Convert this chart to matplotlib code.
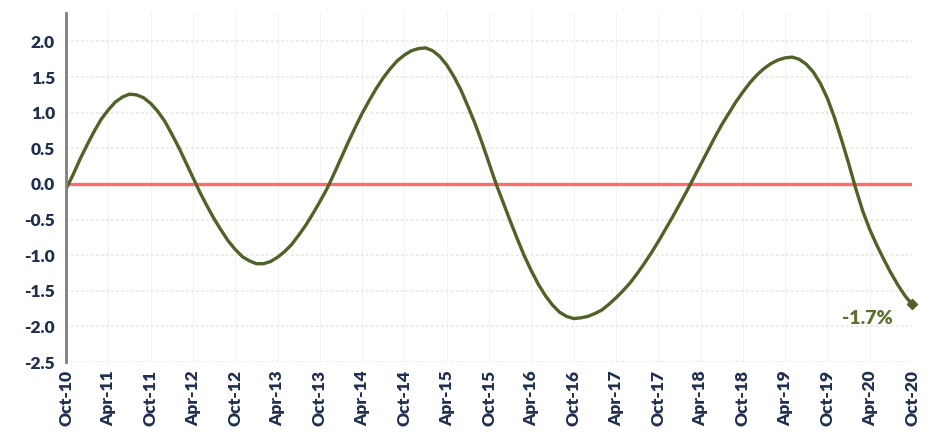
import numpy as np
import matplotlib.pyplot as plt

# monthly values, Oct-10 .. Oct-20
values = [
    -0.07, 0.13, 0.35, 0.55, 0.74, 0.91, 1.04, 1.15, 1.22, 1.26,
    1.25, 1.21, 1.13, 1.02, 0.88, 0.70, 0.51, 0.30, 0.09, -0.12,
    -0.31, -0.49, -0.65, -0.80, -0.92, -1.02, -1.08, -1.12, -1.12, -1.09,
    -1.03, -0.95, -0.85, -0.72, -0.58, -0.42, -0.25, -0.07, 0.14, 0.36,
    0.58, 0.79, 0.99, 1.17, 1.34, 1.49, 1.62, 1.73, 1.81, 1.87,
    1.90, 1.91, 1.87, 1.79, 1.67, 1.51, 1.32, 1.09, 0.85, 0.58,
    0.29, 0.00, -0.26, -0.52, -0.77, -1.01, -1.22, -1.41, -1.57, -1.70,
    -1.80, -1.86, -1.89, -1.88, -1.86, -1.82, -1.77, -1.69, -1.60, -1.50,
    -1.39, -1.26, -1.12, -0.97, -0.81, -0.64, -0.47, -0.29, -0.11, 0.08,
    0.27, 0.46, 0.65, 0.83, 0.99, 1.15, 1.29, 1.42, 1.53, 1.62,
    1.69, 1.74, 1.77, 1.78, 1.75, 1.68, 1.57, 1.41, 1.20, 0.93,
    0.62, 0.29, -0.06, -0.38, -0.64, -0.86, -1.06, -1.25, -1.42, -1.57,
    -1.69,
]
tick_labels = ["Oct-10", "Apr-11", "Oct-11", "Apr-12", "Oct-12", "Apr-13", "Oct-13",
               "Apr-14", "Oct-14", "Apr-15", "Oct-15", "Apr-16", "Oct-16", "Apr-17",
               "Oct-17", "Apr-18", "Oct-18", "Apr-19", "Oct-19", "Apr-20", "Oct-20"]
last_label = "-1.7%"

plt.rcParams['font.family'] = ['Lato', 'DejaVu Sans']

x = np.arange(len(values))
fig = plt.figure(figsize=(9.25, 4.32), dpi=100)
ax = fig.add_axes([0.0714, 0.162, 0.9146, 0.808])

ticks = np.arange(0, len(values), 6)
for t in ticks:
    ax.axvline(t, color='#f3f3f3', lw=0.8, zorder=0)
for yv in np.arange(-2.5, 2.01, 0.5):
    ax.axhline(yv, color='#e6e9d8', lw=1.2, ls=(0, (1.5, 1.5)), zorder=0)

ax.axhline(0, color='#ff6b6b', lw=2.4, zorder=1)
ax.plot(x, values, color='#4f6228', lw=2.4, zorder=2, solid_capstyle='round',
        solid_joinstyle='round')
ax.plot(x[-1], values[-1], marker='D', ms=5, color='#4f6228', zorder=3, clip_on=False)
ax.annotate(last_label, (x[-1], values[-1]), xytext=(-14, -10), textcoords='offset points',
            ha='right', va='center', fontsize=14, fontweight='heavy', color='#5d7130')

ax.set_xlim(0, len(values) - 1)
ax.set_ylim(-2.5, 2.4)
ax.set_yticks(np.arange(-2.5, 2.01, 0.5))
ax.set_yticklabels([f"{v:.1f}" for v in np.arange(-2.5, 2.01, 0.5)])
ax.set_xticks(ticks)
ax.set_xticklabels(tick_labels, rotation=90)

for s in ['top', 'right', 'bottom']:
    ax.spines[s].set_visible(False)
ax.spines['left'].set_color('#7f7f7f')
ax.spines['left'].set_linewidth(2)
ax.tick_params(length=0, pad=8, labelsize=12.5, labelcolor='#1f2f4f')
for lbl in ax.get_xticklabels() + ax.get_yticklabels():
    lbl.set_fontweight('heavy')
ax.tick_params(axis='x', pad=6)

fig.savefig('out.png', dpi=100)
